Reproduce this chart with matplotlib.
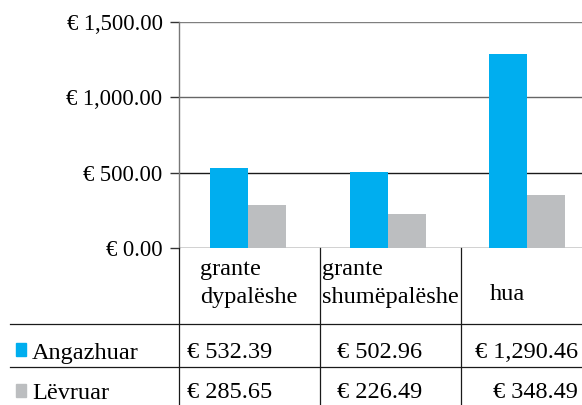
import matplotlib
matplotlib.use("Agg")
import matplotlib.pyplot as plt
from matplotlib.patches import Rectangle
from matplotlib.lines import Line2D
import numpy as np

categories = ["grante\ndypalëshe", "grante\nshumëpalëshe", "hua"]
series_names = ["Angazhuar", "Lëvruar"]
angazhuar = [532.39, 502.96, 1290.46]
levruar = [285.65, 226.49, 348.49]
yticks = [0, 500, 1000, 1500]
colors = ["#00AEEF", "#BCBEC0"]

W, H = 582, 405
plt.rcParams['font.family'] = ['Liberation Serif', 'DejaVu Serif']
fig = plt.figure(figsize=(W / 100, H / 100), dpi=100)

def fx(x):
    return x / W

def fy(y):
    return 1 - y / H

# axes geometry in pixels
x0, x1 = 178.5, 178.5 + 3 * 139.5
ytop, ybot = 22, 248
ax = fig.add_axes([fx(x0), fy(ybot), (x1 - x0) / W, (ybot - ytop) / H])
ax.set_xlim(-0.5, 2.5)
ax.set_ylim(0, 1500)

xs = np.arange(len(categories))
bw = 0.273
ax.bar(xs - bw / 2, angazhuar, bw, color=colors[0], zorder=3)
ax.bar(xs + bw / 2, levruar, bw, color=colors[1], zorder=3)

for s in ["top", "right", "bottom"]:
    ax.spines[s].set_visible(False)
ax.spines["left"].set_color("#777777")
ax.spines["left"].set_linewidth(1.0)
ax.set_xticks([])
ax.set_yticks(yticks)
ax.set_yticklabels([f"€ {v:,.2f}" for v in yticks], fontsize=16.3)
ax.tick_params(axis="y", length=6.5, width=1.0, color="#333333", pad=5)
ax.yaxis.grid(True, zorder=1)
grid_colors = ["#1a1a1a", "#1a1a1a", "#666666", "#7f7f7f"]
for gl, c in zip(ax.get_ygridlines(), grid_colors):
    gl.set_color(c)
    gl.set_linewidth(1.0)

# table lines
lc = "#1a1a1a"
lw = 0.9
for y in (324, 367):
    fig.add_artist(Line2D([fx(10), fx(582)], [fy(y), fy(y)], color=lc, lw=lw))
for px in (179, 320, 461):
    fig.add_artist(Line2D([fx(px), fx(px)], [fy(248), fy(405)], color=lc, lw=lw))

# category labels
tf = 17.5
cat_pos = [(200, 275), (322, 275), (490, 300)]
for cat, (cx, cy) in zip(categories, cat_pos):
    for j, line in enumerate(cat.split("\n")):
        fig.text(fx(cx), fy(cy + 28 * j), line, fontsize=tf, ha="left", va="baseline")

# legend in table
for i, (name, yb, sq) in enumerate([(series_names[0], 359, 343), (series_names[1], 399, 384)]):
    fig.add_artist(Rectangle((fx(16), fy(sq + 13)), 10 / W, 13 / H, color=colors[i],
                             transform=fig.transFigure))
    fig.text(fx(32), fy(yb), name, fontsize=tf, ha="left", va="baseline")

# values
def fmt(v):
    return f"€ {v:,.2f}"

for vals, yb in ((angazhuar, 358), (levruar, 398)):
    fig.text(fx(187), fy(yb), fmt(vals[0]), fontsize=tf, ha="left", va="baseline")
    fig.text(fx(337), fy(yb), fmt(vals[1]), fontsize=tf, ha="left", va="baseline")
    fig.text(fx(578), fy(yb), fmt(vals[2]), fontsize=tf, ha="right", va="baseline")

fig.savefig("out.png", dpi=100)
